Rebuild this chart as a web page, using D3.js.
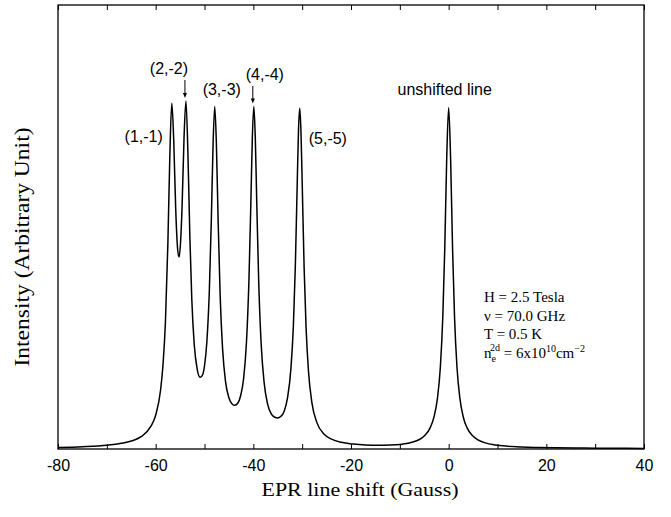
<!DOCTYPE html>
<html>
<head>
<meta charset="utf-8">
<script src="https://cdn.jsdelivr.net/npm/d3@7"></script>
<style>
  body { margin: 0; background: #fff; }
  svg { display: block; }
</style>
</head>
<body>
<div id="chart"></div>
<script>
// EPR line shift (Gauss)
let shift = [
  -80, -75, -70, -66, -63, -61, -60, -59, -58.5, -58, -57.5, -57.1,
  -56.7, -56.3, -55.9, -55.5, -55.2, -54.9, -54.6, -54.2, -53.8, -53.4,
  -53.0, -52.6, -52.1, -51.5, -50.9, -50.5, -50.0, -49.5, -49.0, -48.6,
  -48.25, -47.9, -47.55, -47.2, -46.8, -46.3, -45.7, -45.0, -44.3, -43.8,
  -43.2, -42.6, -42.0, -41.4, -40.9, -40.5, -40.2, -39.9, -39.6, -39.3,
  -38.9, -38.4, -37.8, -37.1, -36.3, -35.6, -35.0, -34.4, -33.7, -33.0,
  -32.3, -31.8, -31.4, -31.0, -30.75, -30.5, -30.25, -30.0, -29.6, -29.2,
  -28.7, -28.0, -27.0, -25.5, -24.0, -22.0, -19.5, -17.0, -14.5, -12.0,
  -9.5, -7.5, -6.0, -4.8, -3.8, -3.0, -2.3, -1.7, -1.2, -0.8, -0.4,
  0, 0.4, 0.8, 1.2, 1.7, 2.3, 3.0, 3.8, 4.8, 6.0, 7.5, 9.5, 12, 15,
  18, 22, 26, 30, 35, 40
];

// intensity (arbitrary unit)
let intensity = [
  0.0046, 0.0068, 0.0112, 0.0196, 0.036, 0.066, 0.099, 0.172, 0.246, 0.372, 0.602, 0.857,
  1.013, 0.903, 0.704, 0.585, 0.562, 0.606, 0.706, 0.907, 1.019, 0.869,
  0.622, 0.438, 0.306, 0.234, 0.210, 0.214, 0.243, 0.317, 0.467, 0.672,
  0.889, 1.003, 0.885, 0.663, 0.452, 0.294, 0.198, 0.150, 0.131, 0.128,
  0.134, 0.156, 0.205, 0.314, 0.494, 0.726, 0.913, 1.003, 0.912, 0.723,
  0.490, 0.308, 0.196, 0.133, 0.102, 0.093, 0.091, 0.095, 0.110, 0.150,
  0.236, 0.361, 0.535, 0.785, 0.934, 0.998, 0.932, 0.783, 0.531, 0.355,
  0.226, 0.135, 0.078, 0.043, 0.029, 0.0195, 0.0143, 0.0117, 0.0109, 0.0115,
  0.0142, 0.0196, 0.0278, 0.0409, 0.0619, 0.094, 0.148, 0.240, 0.387, 0.586, 0.850,
  1.000, 0.849, 0.586, 0.387, 0.240, 0.148, 0.093, 0.061, 0.040, 0.0267, 0.018, 0.012, 0.0082, 0.0059,
  0.0046, 0.0035, 0.0028, 0.0024, 0.002, 0.0017
];

// peak labels and the peak each one points at
let peakNames = ["(1,-1)", "(2,-2)", "(3,-3)", "(4,-4)", "(5,-5)", "unshifted line"];
let peakShift = [-56.7, -53.8, -47.9, -39.9, -30.5, 0];
let peakTop = [1.013, 1.019, 1.003, 1.003, 0.998, 1.0];

let xTickLabels = [-80, -60, -40, -20, 0, 20, 40];
let xTicksAll = d3.range(-80, 41, 10);

let params = ["H = 2.5 Tesla", "\u03bd = 70.0 GHz", "T = 0.5 K"];

let width = 671, height = 517;
let margin = { left: 58, right: 27, top: 5, bottom: 68 };

let svg = d3.select("#chart").append("svg")
  .attr("width", width)
  .attr("height", height);

let x = d3.scaleLinear().domain([-80, 40]).range([margin.left, width - margin.right]);
let y = d3.scaleLinear().domain([0, 1.3]).range([height - margin.bottom, margin.top]);

// frame
svg.append("rect")
  .attr("x", x(-80))
  .attr("y", y(1.3))
  .attr("width", x(40) - x(-80))
  .attr("height", y(0) - y(1.3))
  .attr("fill", "none")
  .attr("stroke", "#000")
  .attr("stroke-width", 1.3);

// inward ticks on bottom and top
let bottomAxis = d3.axisBottom(x).tickValues(xTicksAll).tickSizeInner(-5).tickSizeOuter(0)
  .tickFormat(d => xTickLabels.includes(d) ? d : "");
let gx = svg.append("g")
  .attr("transform", "translate(0," + y(0) + ")")
  .call(bottomAxis);
gx.select(".domain").remove();
gx.selectAll(".tick line").attr("stroke", "#000").attr("stroke-width", 1);
gx.selectAll(".tick text")
  .attr("font-family", "Liberation Sans, Arial, sans-serif")
  .attr("font-size", 16)
  .attr("fill", "#000")
  .attr("dy", 0)
  .attr("y", 22);

let topAxis = d3.axisTop(x).tickValues(xTicksAll).tickSizeInner(-5).tickSizeOuter(0).tickFormat("");
let gt = svg.append("g")
  .attr("transform", "translate(0," + y(1.3) + ")")
  .call(topAxis);
gt.select(".domain").remove();
gt.selectAll(".tick line").attr("stroke", "#000").attr("stroke-width", 1);

// spectrum
let line = d3.line()
  .x((d, i) => x(shift[i]))
  .y(d => y(d))
  .curve(d3.curveMonotoneX);

svg.append("path")
  .datum(intensity)
  .attr("d", line)
  .attr("fill", "none")
  .attr("stroke", "#000")
  .attr("stroke-width", 1.5);

// peak labels
let labelLayout = [
  { dx: -9, y: 142, anchor: "end" },
  { dx: -17, y: 74, anchor: "middle", arrow: true },
  { dx: 7, y: 95, anchor: "middle" },
  { dx: 11, y: 80, anchor: "middle", arrow: true },
  { dx: 9, y: 144, anchor: "start" },
  { dx: -4, y: 95, anchor: "middle" }
];

peakNames.forEach((name, i) => {
  let lay = labelLayout[i];
  svg.append("text")
    .attr("x", x(peakShift[i]) + lay.dx)
    .attr("y", lay.y)
    .attr("text-anchor", lay.anchor)
    .attr("font-family", "Liberation Sans, Arial, sans-serif")
    .attr("font-size", 16)
    .attr("fill", "#000")
    .text(name);
  if (lay.arrow) {
    let ax = x(peakShift[i]) - 1;
    let y0 = lay.y + 6, y1 = y(peakTop[i]) - 3;
    svg.append("line")
      .attr("x1", ax).attr("x2", ax)
      .attr("y1", y0).attr("y2", y1 - 4)
      .attr("stroke", "#000")
      .attr("stroke-width", 1);
    svg.append("path")
      .attr("d", "M" + (ax - 2) + "," + (y1 - 5) + "L" + (ax + 2) + "," + (y1 - 5) + "L" + ax + "," + y1 + "Z")
      .attr("fill", "#000");
  }
});

// axis titles
svg.append("text")
  .attr("x", 360)
  .attr("y", 496)
  .attr("text-anchor", "middle")
  .attr("font-family", "Liberation Serif, Times New Roman, serif")
  .attr("font-size", 19)
  .attr("textLength", 197)
  .attr("lengthAdjust", "spacingAndGlyphs")
  .text("EPR line shift (Gauss)");

svg.append("text")
  .attr("transform", "translate(29,247) rotate(-90)")
  .attr("text-anchor", "middle")
  .attr("font-family", "Liberation Serif, Times New Roman, serif")
  .attr("font-size", 20)
  .attr("textLength", 239)
  .attr("lengthAdjust", "spacingAndGlyphs")
  .text("Intensity (Arbitrary Unit)");

// experiment parameters
let info = svg.append("g")
  .attr("font-family", "Liberation Serif, Times New Roman, serif")
  .attr("font-size", 15)
  .attr("fill", "#000");

params.forEach((p, i) => {
  info.append("text")
    .attr("x", 484)
    .attr("y", 302 + i * 18.5)
    .text(p);
});

let ne = info.append("text")
  .attr("x", 484)
  .attr("y", 357.5);
ne.append("tspan").text("n");
ne.append("tspan").attr("font-size", 10).attr("dy", 4).text("e");
ne.append("tspan").attr("font-size", 10).attr("dx", -6).attr("dy", -11).text("2d");
ne.append("tspan").attr("dy", 7).text(" = 6x10");
ne.append("tspan").attr("font-size", 10).attr("dy", -6).text("10");
ne.append("tspan").attr("dy", 6).text("cm");
ne.append("tspan").attr("font-size", 10).attr("dy", -6).text("\u22122");
</script>
</body>
</html>
